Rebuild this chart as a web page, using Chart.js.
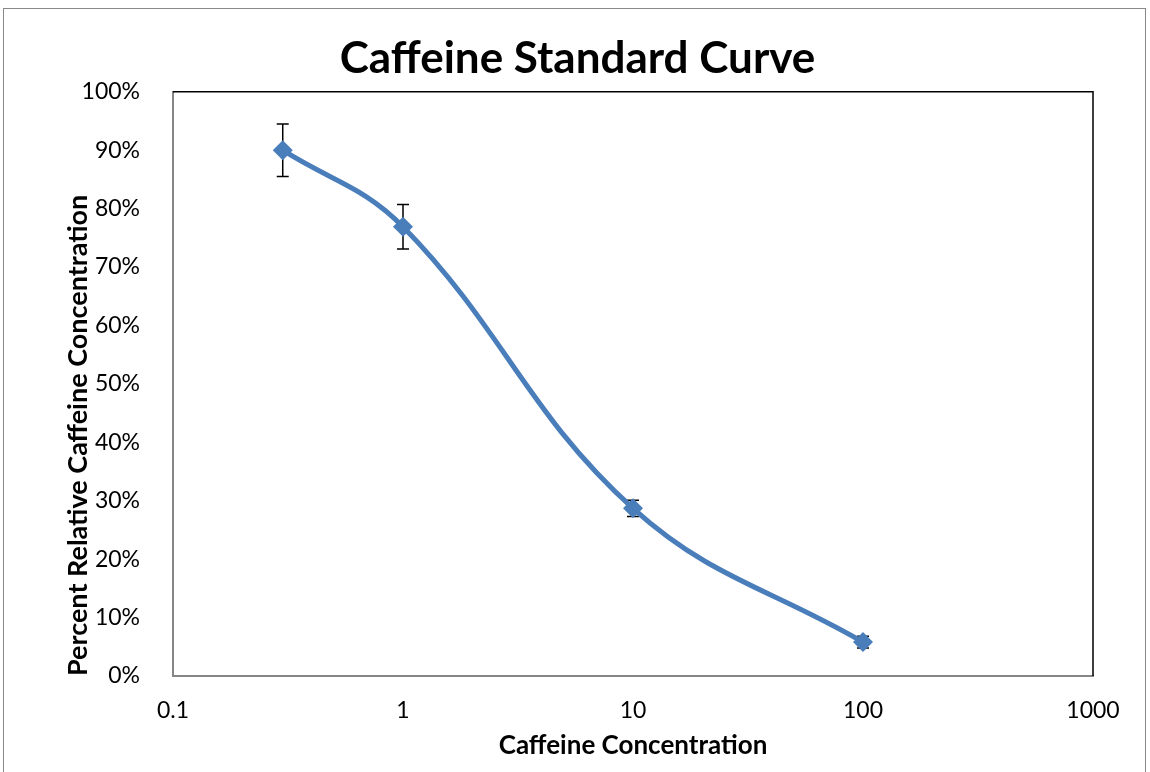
<!DOCTYPE html>
<html>
<head>
<meta charset="utf-8">
<script src="https://cdn.jsdelivr.net/npm/chart.js@4/dist/chart.umd.min.js"></script>
<style>
  html, body { margin: 0; padding: 0; background: #fff; overflow: hidden; }
  #wrap { position: relative; width: 1150px; height: 772px; }
  #frame { position: absolute; left: 3px; top: 8px; width: 1143px; height: 800px; border: 1px solid #888; box-sizing: border-box; }
  canvas { position: absolute; left: 0; top: 0; }
</style>
</head>
<body>
<div id="wrap">
  <div id="frame"></div>
  <canvas id="chart" width="1150" height="772"></canvas>
</div>
<script>
// caffeine concentrations and measured relative concentration (%)
var concentrations = [0.3, 1, 10, 100];
var relativePct = [90.0, 76.9, 28.7, 5.8];
var errPct = [4.5, 3.8, 1.4, 1.0];

var xTickValues = [0.1, 1, 10, 100, 1000];
var xTickLabels = ['0.1', '1', '10', '100', '1000'];

var blue = '#4A7EBB';

var points = concentrations.map(function (c, i) {
    return { x: c, y: relativePct[i] };
});

// error bars, drawn under the line and markers
var errorBars = {
    id: 'errorBars',
    beforeDatasetsDraw: function (chart) {
        var ctx = chart.ctx;
        var xs = chart.scales.x, ys = chart.scales.y;
        ctx.save();
        ctx.strokeStyle = '#000';
        ctx.lineWidth = 1.5;
        concentrations.forEach(function (c, i) {
            var px = xs.getPixelForValue(c);
            var top = ys.getPixelForValue(relativePct[i] + errPct[i]);
            var bot = ys.getPixelForValue(relativePct[i] - errPct[i]);
            ctx.beginPath();
            ctx.moveTo(px, top); ctx.lineTo(px, bot);
            ctx.moveTo(px - 6, top); ctx.lineTo(px + 6, top);
            ctx.moveTo(px - 6, bot); ctx.lineTo(px + 6, bot);
            ctx.stroke();
        });
        ctx.restore();
    }
};

// top and right sides of the plot box are black
var plotBox = {
    id: 'plotBox',
    afterDraw: function (chart) {
        var a = chart.chartArea, ctx = chart.ctx;
        ctx.save();
        ctx.strokeStyle = '#000';
        ctx.lineWidth = 1.5;
        ctx.beginPath();
        ctx.moveTo(a.left, a.top);
        ctx.lineTo(a.right, a.top);
        ctx.lineTo(a.right, a.bottom);
        ctx.stroke();
        ctx.restore();
    }
};

var padLeft = 62, padRight = 57, padTop = 8, padBottom = 0;

new Chart(document.getElementById('chart').getContext('2d'), {
    type: 'line',
    data: {
        datasets: [{
            data: points,
            borderColor: blue,
            backgroundColor: blue,
            borderWidth: 5,
            tension: 0.4,
            pointStyle: 'rectRot',
            pointRadius: 10,
            pointBorderWidth: 0,
            pointBackgroundColor: blue,
            fill: false
        }]
    },
    options: {
        responsive: false,
        animation: false,
        layout: { padding: { left: padLeft, right: padRight, top: padTop, bottom: padBottom } },
        plugins: {
            legend: { display: false },
            tooltip: { enabled: false },
            title: {
                display: true,
                text: 'Caffeine Standard Curve',
                color: '#000',
                font: { family: 'Lato', size: 44, weight: 'bold' },
                padding: { top: 24, bottom: 7 }
            }
        },
        scales: {
            x: {
                type: 'logarithmic',
                min: 0.1,
                max: 1000,
                afterBuildTicks: function (scale) {
                    scale.ticks = xTickValues.map(function (v) { return { value: v }; });
                },
                afterFit: function (scale) { scale.height = 772 - 676 - padBottom; },
                grid: { display: false },
                border: { display: true, color: '#868686', width: 2 },
                ticks: {
                    color: '#000',
                    padding: 13,
                    font: { family: 'Lato', size: 23 },
                    maxRotation: 0,
                    autoSkip: false,
                    callback: function (v, i) { return xTickLabels[i]; }
                },
                title: {
                    display: true,
                    text: 'Caffeine Concentration',
                    color: '#000',
                    font: { family: 'Lato', size: 26, weight: 'bold' },
                    padding: { top: 0, bottom: 11 }
                }
            },
            y: {
                min: 0,
                max: 100,
                afterFit: function (scale) { scale.width = 173 - padLeft; },
                grid: { display: false },
                border: { display: true, color: '#868686', width: 2 },
                ticks: {
                    stepSize: 10,
                    color: '#000',
                    padding: 25,
                    font: { family: 'Lato', size: 23 },
                    callback: function (v) { return v + '%'; }
                },
                title: {
                    display: true,
                    text: 'Percent Relative Caffeine Concentration',
                    align: 'start',
                    color: '#000',
                    font: { family: 'Lato', size: 27, weight: 'bold' },
                    padding: { top: 0, bottom: 0 }
                }
            }
        }
    },
    plugins: [errorBars, plotBox]
});
</script>
</body>
</html>
